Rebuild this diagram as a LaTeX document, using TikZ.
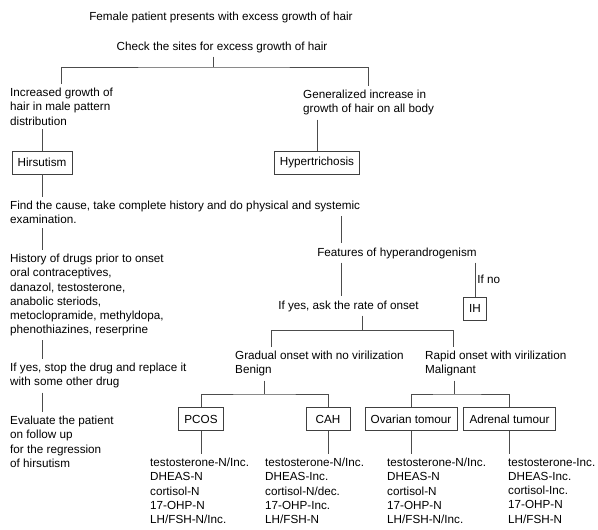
\documentclass[tikz,border=0pt]{standalone}
\usepackage{fontspec}
\setmainfont{Liberation Sans}

\begin{document}
\begin{tikzpicture}[x=1pt, y=-1pt,
    font=\fontsize{11.7}{14.2}\selectfont,
    txt/.style={inner xsep=0pt, inner ysep=4pt, align=left},
    box/.style={draw=black!75, line width=0.8pt, inner xsep=5.7pt, minimum height=23pt},
    link/.style={draw=black!70, line width=0.8pt}]
    \useasboundingbox (0,0) rectangle (598,530);
    \node[txt] (female) at (221,17) {Female patient presents with excess growth of hair};
    \node[txt] (check) at (222,47) {Check the sites for excess growth of hair};
    \node[txt, anchor=north west] (incr) at (10,84) {Increased growth of\\hair in male pattern\\distribution};
    \node[txt, anchor=north west] (gen) at (303,86) {Generalized increase in\\growth of hair on all body};
    \node[box] (hirs) at (42,162.5) {Hirsutism};
    \node[box] (hyper) at (317,162.5) {Hypertrichosis};
    \node[txt, anchor=north west] (find) at (10,197) {Find the cause, take complete history and do physical and systemic\\examination.};
    \node[txt, anchor=north west] (hist) at (10,250) {History of drugs prior to onset\\oral contraceptives,\\danazol, testosterone,\\anabolic steriods,\\metoclopramide, methyldopa,\\phenothiazines, reserprine};
    \node[txt, anchor=north west] (stop) at (10,359) {If yes, stop the drug and replace it\\with some other drug};
    \node[txt, anchor=north west] (eval) at (10,412) {Evaluate the patient\\on follow up\\for the regression\\of hirsutism};
    \node[txt] (feat) at (397,253) {Features of hyperandrogenism};
    \node[txt] (ask) at (348.5,306) {If yes, ask the rate of onset};
    \node[box] (ih) at (475,308.5) {IH};
    \node[txt, anchor=north west] (grad) at (235,347) {Gradual onset with no virilization\\Benign};
    \node[txt, anchor=north west] (rapid) at (425,347) {Rapid onset with virilization\\Malignant};
    \node[box] (pcos) at (201,419) {PCOS};
    \node[box, minimum width=44pt] (cah) at (328,419) {CAH};
    \node[box] (ovar) at (411,419) {Ovarian tomour};
    \node[box] (adre) at (509.5,419) {Adrenal tumour};
    \node[txt, anchor=north west] (pcosl) at (150,454) {testosterone-N/Inc.\\DHEAS-N\\cortisol-N\\17-OHP-N\\LH/FSH-N/Inc.};
    \node[txt, anchor=north west] (cahl) at (265,454) {testosterone-N/Inc.\\DHEAS-Inc.\\cortisol-N/dec.\\17-OHP-Inc.\\LH/FSH-N};
    \node[txt, anchor=north west] (ovarl) at (387,454) {testosterone-N/Inc.\\DHEAS-N\\cortisol-N\\17-OHP-N\\LH/FSH-N/Inc.};
    \node[txt, anchor=north west] (adrel) at (508,454) {testosterone-Inc.\\DHEAS-Inc.\\cortisol-Inc.\\17-OHP-N\\LH/FSH-N};

    % top split
    \coordinate (split1) at (213,67);
    \draw[link] (check.south -| split1) -- (split1);
    \draw[link] (incr.north) |- (split1) -| (gen.north);
    \draw[link] (hirs.north |- incr.south) -- (hirs.north);
    \draw[link] (hyper.north |- gen.south) -- (hyper.north);

    % left column
    \draw[link] (hirs.south) -- (hirs.south |- find.north);
    \draw[link] (hirs.south |- find.south) -- (hirs.south |- hist.north);
    \draw[link] (hirs.south |- hist.south) -- (hirs.south |- stop.north);
    \draw[link] (hirs.south |- stop.south) -- (hirs.south |- eval.north);

    % hyperandrogenism
    \coordinate (fork2) at (341,216);
    \draw[link] (fork2) -- (fork2 |- feat.north);
    \draw[link] (fork2 |- feat.south) -- (fork2 |- ask.north);
    \draw[link] (ih.north |- feat.south) -- node[txt, right, inner xsep=2pt] (ifno) {If no} (ih.north);

    % rate of onset
    \coordinate (fork3) at (362,330);
    \coordinate (g1) at (271,330);
    \coordinate (r1) at (453,330);
    \draw[link] (ask.south -| fork3) -- (fork3);
    \draw[link] (grad.north -| g1) -- (g1) -- (r1) -- (rapid.north -| r1);

    % benign / malignant
    \coordinate (fork4) at (264,394);
    \coordinate (fork5) at (454,394);
    \draw[link] (grad.south -| fork4) -- (fork4);
    \draw[link] (pcos.north) |- (fork4) -| (cah.north);
    \draw[link] (rapid.south -| fork5) -- (fork5);
    \draw[link] (ovar.north) |- (fork5) -| (adre.north);

    % lab findings
    \draw[link] (pcos.south) -- (pcos.south |- pcosl.north);
    \draw[link] (cah.south) -- (cah.south |- cahl.north);
    \draw[link] (ovar.south) -- (ovar.south |- ovarl.north);
    \draw[link] (adre.south) -- (adre.south |- adrel.north);
\end{tikzpicture}
\end{document}
